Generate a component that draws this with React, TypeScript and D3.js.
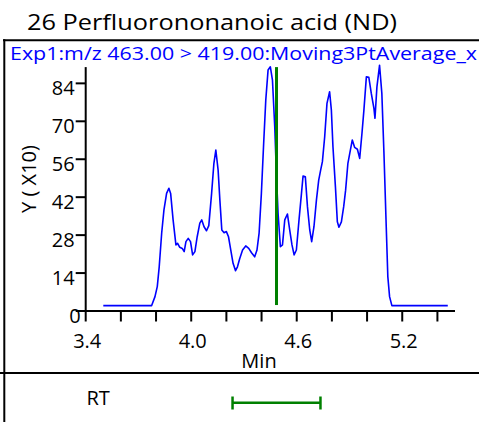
import React from "react";
import * as d3 from "d3";

const titleText = "26 Perfluorononanoic acid (ND)";
const traceLabel = "Exp1:m/z 463.00 > 419.00:Moving3PtAverage_x";
const yAxisLabel = "Y ( X10)";
const xAxisLabel = "Min";
const rtLabel = "RT";

const times = [
  3.500, 3.775, 3.794, 3.807, 3.818, 3.832, 3.845, 3.860, 3.873, 3.883,
  3.897, 3.913, 3.922, 3.935, 3.949, 3.960, 3.970, 3.983, 3.996, 4.008,
  4.021, 4.034, 4.049, 4.060, 4.073, 4.087, 4.100, 4.116, 4.129, 4.140,
  4.153, 4.163, 4.174, 4.187, 4.200, 4.212, 4.225, 4.238, 4.252, 4.263,
  4.276, 4.292, 4.310, 4.327, 4.343, 4.361, 4.374, 4.386, 4.399, 4.412,
  4.424, 4.437, 4.450, 4.462, 4.475, 4.485, 4.494, 4.507, 4.519, 4.532,
  4.547, 4.560, 4.573, 4.585, 4.598, 4.613, 4.627, 4.636, 4.649, 4.661,
  4.674, 4.685, 4.698, 4.712, 4.725, 4.736, 4.746, 4.759, 4.772, 4.787,
  4.797, 4.806, 4.820, 4.831, 4.840, 4.854, 4.867, 4.878, 4.891, 4.905,
  4.916, 4.929, 4.945, 4.958, 4.971, 4.982, 4.996, 5.010, 5.024, 5.039,
  5.045, 5.056, 5.071, 5.084, 5.096, 5.109, 5.118, 5.128, 5.141, 5.459,
];

const values = [
  2.0, 2.0, 5.3, 9.0, 16.3, 28.7, 37.3, 43.4, 45.3, 43.4,
  33.6, 24.4, 25.0, 23.5, 23.1, 21.9, 25.6, 26.8, 25.6, 20.7,
  21.9, 27.4, 32.4, 33.6, 31.1, 29.6, 31.5, 43.4, 54.5, 59.4,
  52.0, 40.9, 29.9, 28.9, 29.3, 27.4, 22.5, 17.6, 14.9, 16.3,
  19.4, 22.5, 24.0, 23.1, 21.5, 20.0, 22.5, 28.7, 43.4, 61.9,
  77.8, 88.9, 90.1, 85.2, 68.0, 49.5, 36.0, 23.7, 24.4, 33.6,
  35.8, 29.9, 24.4, 20.7, 22.5, 33.6, 43.4, 49.8, 49.5, 38.5,
  29.9, 25.6, 31.1, 40.9, 48.3, 52.0, 55.1, 64.3, 76.6, 80.9,
  74.1, 60.6, 45.9, 32.9, 30.9, 32.9, 38.5, 44.6, 54.5, 59.4,
  63.1, 60.4, 59.7, 56.3, 65.6, 74.1, 86.4, 86.2, 80.3, 74.8,
  71.1, 82.7, 90.7, 80.3, 58.2, 31.1, 12.7, 5.3, 2.0, 2.0,
];

const xTicks = [3.4, 3.6, 3.8, 4.0, 4.2, 4.4, 4.6, 4.8, 5.0, 5.2, 5.4];
const xTickLabels = [3.4, 4.0, 4.6, 5.2];
const yTicks = [0, 14, 28, 42, 56, 70, 84];

const rtCenter = 4.485;
const rtLow = 4.235;
const rtHigh = 4.735;
const rtLineBottom = 2.2;

const W = 479;
const H = 422;
const FONT = "'Open Sans', 'Noto Sans', sans-serif";
const BLUE = "#0000ff";
const GREEN = "#008000";

export default function App() {
  const x = d3.scaleLinear().domain([3.4, 5.5]).range([85.7, 455]);
  const y = d3.scaleLinear().domain([0, 90]).range([311, 67.1]);
  const pts: [number, number][] = times.map((t, i) => [t, values[i]]);
  const line = d3
    .line<[number, number]>()
    .x((d) => x(d[0]))
    .y((d) => y(d[1]));

  const y0 = y(0);
  const x0 = x(3.4);

  return (
    <svg
      width={W}
      height={H}
      style={{ position: "absolute", left: 0, top: 0, background: "#fff" }}
      fontFamily={FONT}
    >
      <rect x={0} y={0} width={W} height={H} fill="#fff" />
      {/* title */}
      <text x={27} y={30} fontSize={22} fill="#000" textLength={370} lengthAdjust="spacingAndGlyphs">
        {titleText}
      </text>
      {/* frame */}
      <line x1={3} y1={40.3} x2={W} y2={40.3} stroke="#000" strokeWidth={2} />
      <line x1={4.3} y1={39.3} x2={4.3} y2={H} stroke="#000" strokeWidth={2} />
      <line x1={0} y1={373} x2={W} y2={373} stroke="#000" strokeWidth={2} />
      {/* trace header */}
      <text x={10} y={59.5} fontSize={18} fill={BLUE} textLength={467} lengthAdjust="spacingAndGlyphs">
        {traceLabel}
      </text>

      {/* curve */}
      <path d={line(pts) || ""} fill="none" stroke={BLUE} strokeWidth={1.6} strokeLinejoin="round" />
      {/* RT marker */}
      <line
        x1={x(rtCenter)}
        x2={x(rtCenter)}
        y1={y(90)}
        y2={y(rtLineBottom)}
        stroke={GREEN}
        strokeWidth={3}
      />

      {/* axes */}
      <line x1={x0} y1={y(90)} x2={x0} y2={y0 + 1} stroke="#000" strokeWidth={2} />
      <line x1={x0 - 1} y1={y0} x2={x(5.5)} y2={y0} stroke="#000" strokeWidth={2} />
      {yTicks.map((v) => (
        <g key={"y" + v}>
          <line x1={x0 - 10} x2={x0} y1={y(v)} y2={y(v)} stroke="#000" strokeWidth={2} />
          <text
            x={v === 0 ? x0 - 5 : x0 - 11}
            y={y(v) + 12}
            fontSize={20}
            textAnchor="end"
            fill="#000"
          >
            {v}
          </text>
        </g>
      ))}
      {xTicks.map((t) => (
        <line key={"x" + t} x1={x(t)} x2={x(t)} y1={y0} y2={y0 + 10.5} stroke="#000" strokeWidth={2} />
      ))}
      {xTickLabels.map((t) => (
        <text key={"xl" + t} x={x(t) + 1.5} y={348} fontSize={20} textAnchor="middle" fill="#000">
          {t.toFixed(1)}
        </text>
      ))}
      <text x={259} y={368.3} fontSize={20} textAnchor="middle" fill="#000">
        {xAxisLabel}
      </text>
      <text
        transform={`translate(35.5, ${(311 + 67) / 2 - 10}) rotate(-90)`}
        fontSize={20}
        textAnchor="middle"
        fill="#000"
      >
        {yAxisLabel}
      </text>

      {/* RT row */}
      <text x={86.5} y={405} fontSize={20} fill="#000">
        {rtLabel}
      </text>
      <line x1={x(rtLow)} x2={x(rtHigh)} y1={402.7} y2={402.7} stroke={GREEN} strokeWidth={2.5} />
      <line x1={x(rtLow)} x2={x(rtLow)} y1={396.5} y2={409.5} stroke={GREEN} strokeWidth={2.5} />
      <line x1={x(rtHigh)} x2={x(rtHigh)} y1={396.5} y2={409.5} stroke={GREEN} strokeWidth={2.5} />
    </svg>
  );
}
